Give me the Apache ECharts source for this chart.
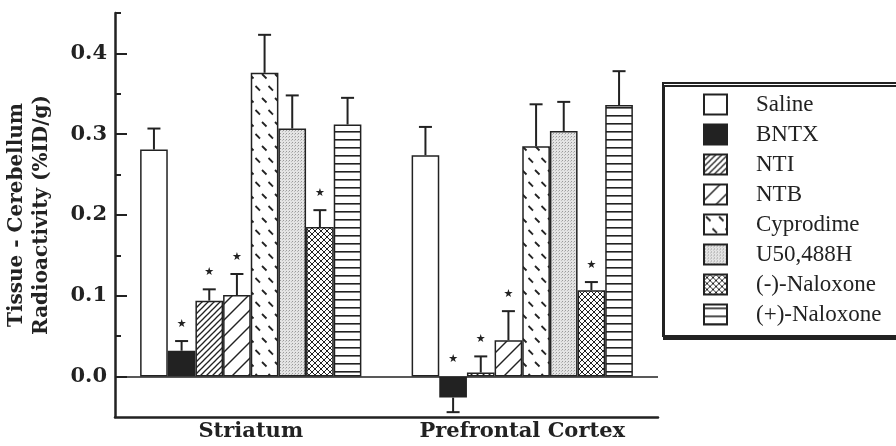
<!DOCTYPE html>
<html>
<head>
<meta charset="utf-8">
<script src="https://cdn.jsdelivr.net/npm/echarts@6/dist/echarts.min.js"></script>
<style>html,body{margin:0;padding:0;background:#fff}#c{width:896px;height:446px}</style>
</head>
<body>
<div id="c"></div>
<script>
// ---- data ----
var categories = ['Striatum', 'Prefrontal Cortex'];
var seriesNames = ['Saline', 'BNTX', 'NTI', 'NTB', 'Cyprodime', 'U50,488H', '(-)-Naloxone', '(+)-Naloxone'];
var saline    = [0.281, 0.274];
var bntx      = [0.032, -0.026];
var nti       = [0.094, 0.005];
var ntb       = [0.101, 0.045];
var cyprodime = [0.376, 0.285];
var u50488h   = [0.307, 0.304];
var negNalox  = [0.185, 0.107];
var posNalox  = [0.312, 0.336];
var salineErr    = [0.026, 0.035];
var bntxErr      = [0.012, 0.018];
var ntiErr       = [0.014, 0.020];
var ntbErr       = [0.026, 0.036];
var cyprodimeErr = [0.047, 0.052];
var u50488hErr   = [0.041, 0.036];
var negNaloxErr  = [0.021, 0.010];
var posNaloxErr  = [0.033, 0.042];
var significant  = [[0,0],[1,1],[1,1],[1,1],[0,0],[0,0],[1,1],[0,0]];
var majorTicks = [0, 0.1, 0.2, 0.3, 0.4];
var minorTicks = [0.05, 0.15, 0.25, 0.35, 0.45];

var values = [saline, bntx, nti, ntb, cyprodime, u50488h, negNalox, posNalox];
var errors = [salineErr, bntxErr, ntiErr, ntbErr, cyprodimeErr, u50488hErr, negNaloxErr, posNaloxErr];

// ---- patterns ----
var INK = '#222';
function pat(w, h, draw, bg) {
  var c = document.createElement('canvas');
  c.width = w; c.height = h;
  var ctx = c.getContext('2d');
  ctx.fillStyle = bg || '#fff';
  ctx.fillRect(0, 0, w, h);
  ctx.strokeStyle = INK; ctx.fillStyle = INK;
  draw(ctx, w, h);
  return { image: c, repeat: 'repeat' };
}
function line(ctx, x1, y1, x2, y2, lw) {
  ctx.lineWidth = lw; ctx.beginPath(); ctx.moveTo(x1, y1); ctx.lineTo(x2, y2); ctx.stroke();
}
var fills = [
  '#fff',
  INK,
  pat(6, 6, function (ctx) { line(ctx, -1, 7, 7, -1, 1.3); line(ctx, -1, 1, 1, -1, 1.3); line(ctx, 5, 7, 7, 5, 1.3); }),
  pat(16, 16, function (ctx) { line(ctx, -1, 17, 17, -1, 1.4); line(ctx, -1, 1, 1, -1, 1.4); line(ctx, 15, 17, 17, 15, 1.4); }),
  pat(13, 24, function (ctx) { line(ctx, 2, 2, 6.5, 6.5, 1.8); line(ctx, 8.5, 14, 13, 18.5, 1.8); line(ctx, -4.5, 14, 0, 18.5, 1.8); }),
  pat(3, 3, function (ctx) { ctx.fillStyle = '#9a9a9a'; ctx.fillRect(1, 1, 1, 1); ctx.fillStyle = '#bdbdbd'; ctx.fillRect(0, 2, 1, 1); }, '#e4e4e4'),
  pat(6, 6, function (ctx) { line(ctx, -1, 7, 7, -1, 1); line(ctx, -1, -1, 7, 7, 1); line(ctx, -1, 1, 1, -1, 1); line(ctx, 5, 7, 7, 5, 1); line(ctx, 5, -1, 7, 1, 1); line(ctx, -1, 5, 1, 7, 1); }),
  pat(4, 8, function (ctx) { ctx.fillRect(0, 3, 4, 1.6); })
];

var GAP = 0.185;
var N = seriesNames.length;
var serif = 'DejaVu Serif';

var series = seriesNames.map(function (name, i) {
  var s = {
    name: name,
    type: 'bar',
    data: values[i],
    barGap: '0%',
    barCategoryGap: (GAP * 100) + '%',
    itemStyle: { color: fills[i], borderColor: INK, borderWidth: 1.5 },
    emphasis: { disabled: true },
    z: 2
  };
  if (i === 0) {
    s.markLine = {
      silent: true, symbol: ['none', 'none'], label: { show: false },
      lineStyle: { color: INK, width: 1.6, type: 'solid' },
      data: [{ yAxis: 0 }]
    };
  }
  return s;
});

var errData = [];
for (var i = 0; i < N; i++) {
  for (var c = 0; c < categories.length; c++) {
    errData.push([c, i, values[i][c], errors[i][c], significant[i][c]]);
  }
}
series.push({
  type: 'custom',
  name: 'err',
  data: errData,
  encode: { x: 0, y: 2 },
  z: 5,
  silent: true,
  renderItem: function (params, api) {
    var cat = api.value(0), si = api.value(1), v = api.value(2), se = api.value(3), star = api.value(4);
    var band = api.size([1, 0])[0];
    var barW = band * (1 - GAP) / N;
    var base = api.coord([cat, 0]);
    var x = base[0] + (si - (N - 1) / 2) * barW;
    var yTop = api.coord([cat, v])[1];
    var yEnd = api.coord([cat, v + (v < 0 ? -se : se)])[1];
    var ch = [
      { type: 'line', shape: { x1: x, y1: yTop, x2: x, y2: yEnd }, style: { stroke: INK, lineWidth: 2 } },
      { type: 'line', shape: { x1: x - 6.5, y1: yEnd, x2: x + 6.5, y2: yEnd }, style: { stroke: INK, lineWidth: 2 } }
    ];
    if (star) {
      var yS = Math.min(yEnd, base[1]) - 17;
      ch.push({ type: 'text', style: { text: '★', x: x, y: yS, align: 'center', verticalAlign: 'middle', fontSize: 11, fontFamily: 'DejaVu Sans', fill: INK } });
    }
    return { type: 'group', children: ch };
  }
});

var chart = echarts.init(document.getElementById('c'), null, { renderer: 'canvas' });
chart.setOption({
  animation: false,
  backgroundColor: '#fff',
  grid: { left: 115, right: 238, top: 13, bottom: 29, containLabel: false, outerBoundsMode: 'none' },
  legend: {
    data: seriesNames,
    orient: 'vertical',
    left: 663, top: 83,
    icon: 'rect',
    itemWidth: 23, itemHeight: 20, itemGap: 7,
    padding: [10, 40, 10, 40],
    backgroundColor: '#fff',
    borderColor: INK, borderWidth: 2,
    shadowColor: INK, shadowBlur: 0, shadowOffsetX: 1, shadowOffsetY: 3,
    selectedMode: false,
    textStyle: { fontFamily: 'Liberation Serif', fontSize: 23, color: INK, padding: [0, 0, 0, 24] }
  },
  xAxis: {
    type: 'category',
    data: categories,
    position: 'bottom',
    axisLine: { onZero: false, lineStyle: { color: INK, width: 2.5 } },
    axisTick: { inside: true, length: 10, alignWithLabel: false, interval: 0, lineStyle: { color: INK, width: 2.5 } },
    axisLabel: { interval: 0, hideOverlap: false, fontFamily: serif, fontWeight: 'bold', fontSize: 21, color: INK, margin: 4 },
    splitLine: { show: false }
  },
  yAxis: [{
    type: 'value',
    min: -0.05, max: 0.45,
    name: 'Tissue - Cerebellum\nRadioactivity (%ID/g)',
    nameLocation: 'middle', nameRotate: 90, nameGap: 61,
    nameTextStyle: { fontFamily: serif, fontWeight: 'bold', fontSize: 20, color: INK, lineHeight: 25 },
    axisLine: { show: true, lineStyle: { color: INK, width: 2.5 } },
    axisTick: { show: true, inside: true, length: 12, customValues: majorTicks, lineStyle: { color: INK, width: 2 } },
    axisLabel: { customValues: majorTicks, margin: 8, fontFamily: serif, fontWeight: 'bold', fontSize: 21, color: INK,
      formatter: function (v) { return v.toFixed(1); } },
    splitLine: { show: false }
  }, {
    type: 'value',
    min: -0.05, max: 0.45,
    position: 'left',
    axisLine: { show: false },
    axisTick: { show: true, inside: true, length: 6, customValues: minorTicks, lineStyle: { color: INK, width: 2 } },
    axisLabel: { show: false },
    splitLine: { show: false }
  }],
  series: series
});
</script>
</body>
</html>
